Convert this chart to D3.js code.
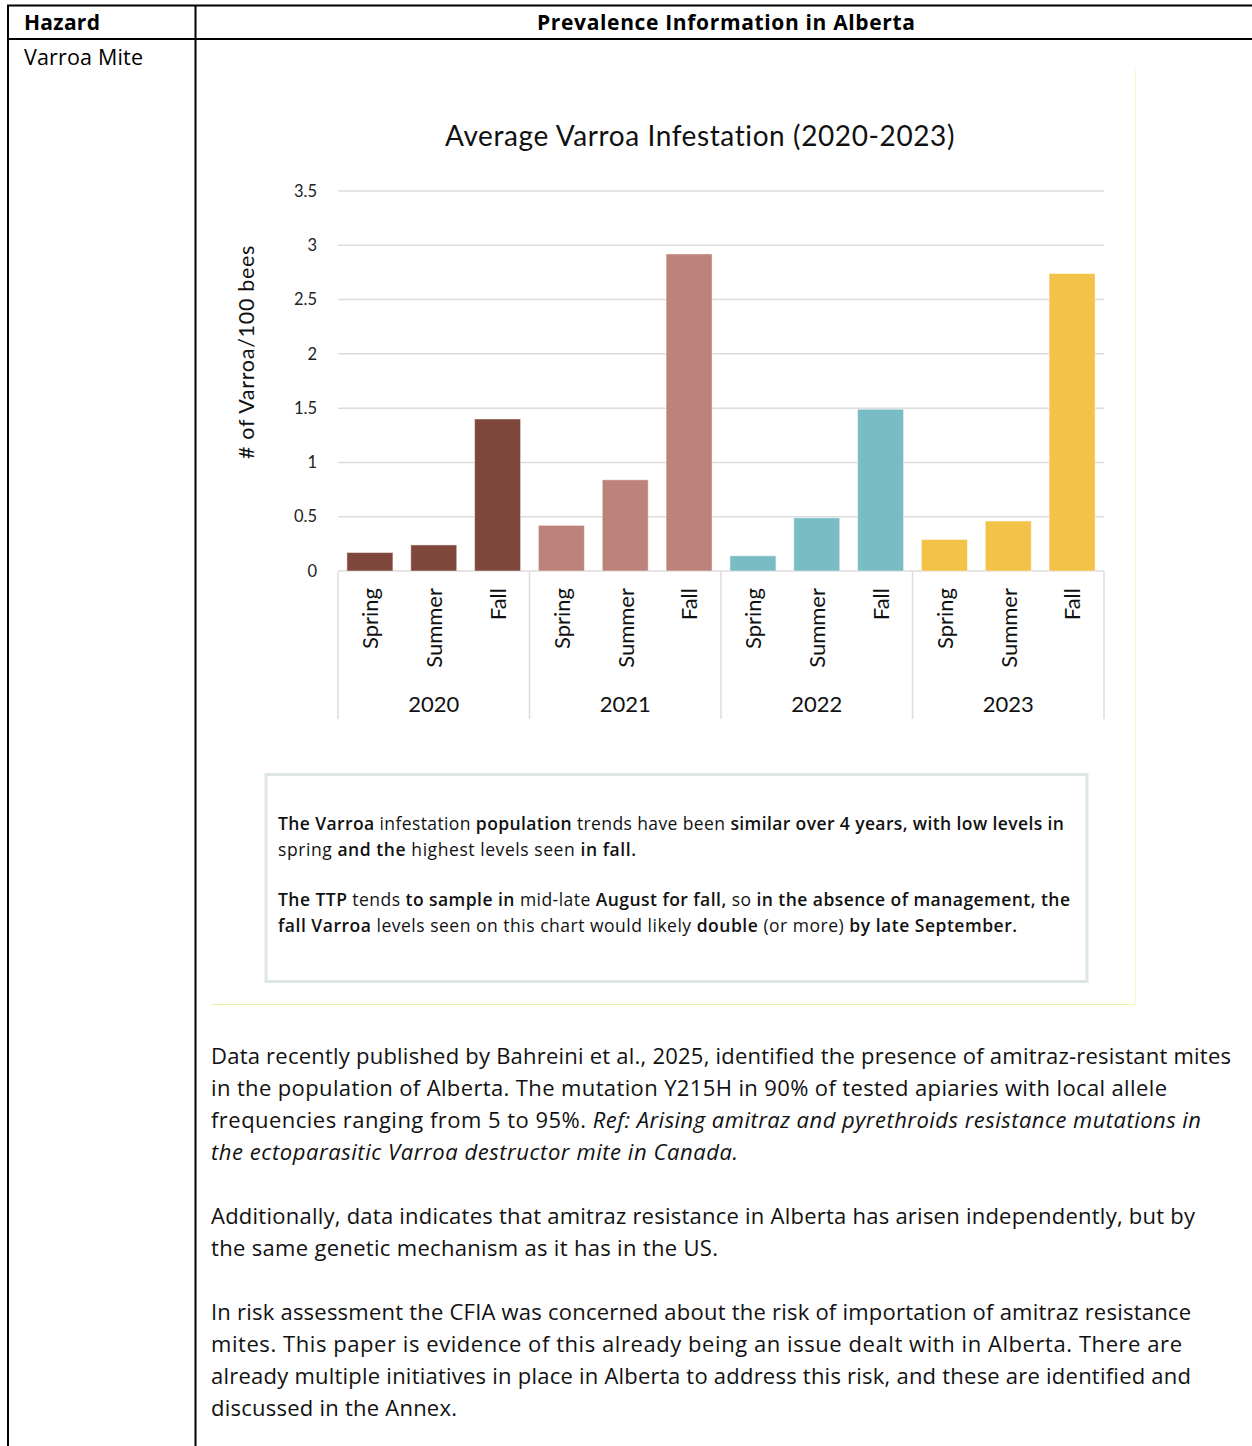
<!DOCTYPE html>
<html>
<head>
<meta charset="utf-8">
<script src="https://cdn.jsdelivr.net/npm/d3@7"></script>
<style>
  body { margin: 0; background: #fff; }
  svg { display: block; }
</style>
</head>
<body>
<svg id="page"></svg>
<script>
// DATA /////////////////////////////////////////
const years = ["2020", "2021", "2022", "2023"];
const seasons = ["Spring", "Summer", "Fall"];
const v2020 = [0.17, 0.24, 1.40];
const v2021 = [0.42, 0.84, 2.92];
const v2022 = [0.14, 0.49, 1.49];
const v2023 = [0.29, 0.46, 2.74];
const yearColors = ["#7f473c", "#bd837a", "#79bcc4", "#f3c249"];
const yTicks = [0, 0.5, 1, 1.5, 2, 2.5, 3, 3.5];
const chartTitle = "Average Varroa Infestation (2020-2023)";
const yTitle = "# of Varroa/100 bees";

// note box lines: [text, bold?] pieces
const noteLines = [
  [["The ", 1], ["Varroa ", 1], ["infestation ", 0], ["population ", 1], ["trends have been ", 0], ["similar over 4 years, with low levels in", 1]],
  [["spring ", 0], ["and the ", 1], ["highest levels seen ", 0], ["in fall.", 1]],
  [["The TTP ", 1], ["tends ", 0], ["to sample in ", 1], ["mid-late ", 0], ["August for fall, ", 1], ["so ", 0], ["in the absence of management, the", 1]],
  [["fall Varroa ", 1], ["levels seen on this chart would likely ", 0], ["double ", 1], ["(or more) ", 0], ["by late September.", 1]]
];
const noteWidths = [786, 358, 792, 739];

// body paragraphs: [text, italic?] pieces, with the row they sit on
const bodyLines = [
  { row: 0, end: 1231, parts: [["Data recently published by Bahreini et al., 2025, identified the presence of amitraz-resistant mites", 0]] },
  { row: 1, end: 1167, parts: [["in the population of Alberta. The mutation Y215H in 90% of tested apiaries with local allele", 0]] },
  { row: 2, end: 1201, parts: [["frequencies ranging from 5 to 95%. ", 0], ["Ref: Arising amitraz and pyrethroids resistance mutations in", 1]] },
  { row: 3, end: 738, parts: [["the ectoparasitic Varroa destructor mite in Canada.", 1]] },
  { row: 5, end: 1195, parts: [["Additionally, data indicates that amitraz resistance in Alberta has arisen independently, but by", 0]] },
  { row: 6, end: 718, parts: [["the same genetic mechanism as it has in the US.", 0]] },
  { row: 8, end: 1191, parts: [["In risk assessment the CFIA was concerned about the risk of importation of amitraz resistance", 0]] },
  { row: 9, end: 1182, parts: [["mites. This paper is evidence of this already being an issue dealt with in Alberta. There are", 0]] },
  { row: 10, end: 1191, parts: [["already multiple initiatives in place in Alberta to address this risk, and these are identified and", 0]] },
  { row: 11, end: 457, parts: [["discussed in the Annex.", 0]] }
];

const values = [v2020, v2021, v2022, v2023];

// PAGE /////////////////////////////////////////
const W = 1252, H = 1446;
const svg = d3.select("#page").attr("width", W).attr("height", H);

// stretch/shrink a text line to a measured width via letter-spacing
const fitWidth = (sel, target) => {
  if (!target) return;
  const node = sel.node();
  const w = node.getComputedTextLength();
  const n = node.textContent.length;
  if (n > 1) sel.attr("letter-spacing", (target - w) / (n - 1));
};

// table frame
const tbl = svg.append("g").attr("stroke", "#000").attr("stroke-width", 2);
tbl.append("line").attr("x1", 7).attr("x2", W).attr("y1", 5.5).attr("y2", 5.5);
tbl.append("line").attr("x1", 7).attr("x2", W).attr("y1", 39).attr("y2", 39);
tbl.append("line").attr("x1", 8).attr("x2", 8).attr("y1", 5).attr("y2", H);
tbl.append("line").attr("x1", 195.5).attr("x2", 195.5).attr("y1", 5).attr("y2", H);

const bodyFont = "'Open Sans', 'Noto Sans', sans-serif";
const hz = svg.append("text").attr("x", 24).attr("y", 30)
  .style("font-family", bodyFont).style("font-size", "21px").style("font-weight", 700)
  .text("Hazard");
fitWidth(hz, 76);
const pv = svg.append("text").attr("x", 537).attr("y", 30)
  .style("font-family", bodyFont).style("font-size", "21px").style("font-weight", 700)
  .text("Prevalence Information in Alberta");
fitWidth(pv, 378);
const vm = svg.append("text").attr("x", 24).attr("y", 65)
  .style("font-family", bodyFont).style("font-size", "21.5px")
  .text("Varroa Mite");
fitWidth(vm, 119);

// chart picture edge (faint)
svg.append("line").attr("x1", 211).attr("x2", 1135.5).attr("y1", 1004.5).attr("y2", 1004.5)
  .attr("stroke", "#f0f0a8").attr("stroke-width", 1);
svg.append("line").attr("x1", 1135.5).attr("x2", 1135.5).attr("y1", 70).attr("y2", 1004.5)
  .attr("stroke", "#f6f6c8").attr("stroke-width", 1);

// CHART ////////////////////////////////////////
const chartFont = "Lato, 'DejaVu Sans', sans-serif";
const plot = { left: 338, right: 1104, top: 191, bottom: 571 };

const x0 = d3.scaleBand().domain(years).range([plot.left, plot.right]);
const x1 = d3.scaleBand().domain(seasons).range([0, x0.bandwidth()])
  .paddingInner(0.28).paddingOuter(0.14);
const y = d3.scaleLinear().domain([0, 3.5]).range([plot.bottom, plot.top]);

const chartG = svg.append("g").style("font-family", chartFont).attr("fill", "#111");

chartG.append("text")
  .attr("x", 700).attr("y", 146).attr("text-anchor", "middle")
  .style("font-size", "28px").attr("letter-spacing", 0.6)
  .text(chartTitle);

// grid
chartG.append("g").selectAll("line").data(yTicks).join("line")
  .attr("x1", plot.left).attr("x2", plot.right)
  .attr("y1", (d) => y(d)).attr("y2", (d) => y(d))
  .attr("stroke", "#dcdcdc").attr("stroke-width", 1.5);

// y axis
const yAxisG = chartG.append("g")
  .attr("transform", `translate(${plot.left},0)`)
  .call(d3.axisLeft(y).tickValues(yTicks).tickSize(0).tickPadding(21).tickFormat(d3.format("~g")));
yAxisG.select(".domain").remove();
yAxisG.selectAll("text").style("font-family", chartFont).style("font-size", "16.5px").attr("fill", "#222");

chartG.append("text")
  .attr("transform", `translate(254, 352) rotate(-90)`)
  .attr("text-anchor", "middle").style("font-size", "21.5px").attr("letter-spacing", 0.7)
  .text(yTitle);

// bars
const yearG = chartG.selectAll(".year").data(years).join("g")
  .attr("class", "year")
  .attr("transform", (d) => `translate(${x0(d)},0)`);

yearG.selectAll("rect")
  .data((d, i) => seasons.map((s, j) => ({ s, v: values[i][j], c: yearColors[i] })))
  .join("rect")
  .attr("x", (d) => x1(d.s))
  .attr("width", x1.bandwidth())
  .attr("y", (d) => y(d.v))
  .attr("height", (d) => y(0) - y(d.v))
  .attr("fill", (d) => d.c)
  .attr("stroke", "rgba(255,255,255,0.45)").attr("stroke-width", 1);

// season labels
yearG.selectAll(".season").data(seasons).join("text")
  .attr("class", "season")
  .attr("transform", (d) => `translate(${x1(d) + x1.bandwidth() / 2}, 588) rotate(-90)`)
  .attr("text-anchor", "end").attr("dy", "0.38em")
  .style("font-size", "22px")
  .text((d) => d);

// year labels
yearG.append("text")
  .attr("x", x0.bandwidth() / 2).attr("y", 712)
  .attr("text-anchor", "middle").style("font-size", "22px")
  .text((d) => d);

// group dividers
chartG.append("g").selectAll("line").data(years.map((d) => x0(d)).concat([plot.right])).join("line")
  .attr("x1", (d) => d).attr("x2", (d) => d)
  .attr("y1", plot.bottom).attr("y2", 719)
  .attr("stroke", "#dcdcdc").attr("stroke-width", 1.5);

// NOTE BOX /////////////////////////////////////
svg.append("rect")
  .attr("x", 266).attr("y", 774.5).attr("width", 821).attr("height", 207)
  .attr("fill", "#fff").attr("stroke", "#dde7e6").attr("stroke-width", 3);

const noteFont = "'Open Sans', 'Noto Sans', sans-serif";
const noteY = [830, 856, 906, 932];
noteLines.forEach((line, i) => {
  const t = svg.append("text").attr("x", 278).attr("y", noteY[i])
    .style("font-family", noteFont).style("font-size", "17.5px").attr("fill", "#111");
  line.forEach(([txt, b]) => {
    t.append("tspan").style("font-weight", b ? 600 : 400).text(txt);
  });
  fitWidth(t, noteWidths[i]);
});

// BODY TEXT ////////////////////////////////////
bodyLines.forEach((line) => {
  const t = svg.append("text").attr("x", 211).attr("y", 1064 + line.row * 32)
    .style("font-family", bodyFont).style("font-size", "22px").attr("fill", "#111");
  line.parts.forEach(([txt, it]) => {
    t.append("tspan").style("font-style", it ? "italic" : "normal").text(txt);
  });
  fitWidth(t, line.end - 211);
});
</script>
</body>
</html>
